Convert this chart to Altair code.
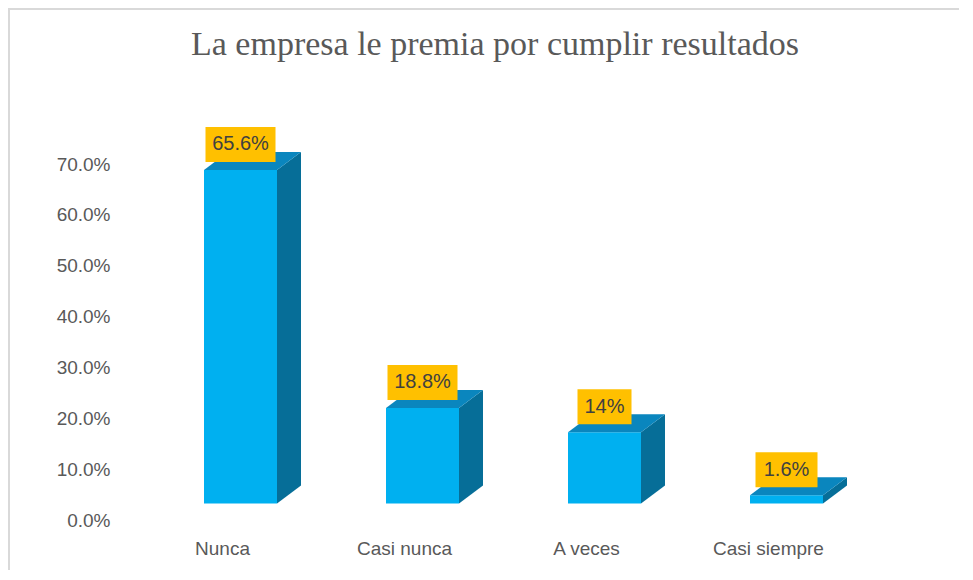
import altair as alt
import pandas as pd

# ---- data ----
categories = ["Nunca", "Casi nunca", "A veces", "Casi siempre"]
values = [0.656, 0.188, 0.14, 0.016]
value_labels = ["65.6%", "18.8%", "14%", "1.6%"]
y_ticks = [0.0, 0.1, 0.2, 0.3, 0.4, 0.5, 0.6, 0.7]
title_text = "La empresa le premia por cumplir resultados"

# ---- layout / style constants ----
W, H = 728, 356
PAD_L, PAD_T, PAD_R, PAD_B = 123, 156, 100, 50
Y_MAX = 0.7
PX_X = W / len(categories)      # pixels per x unit
PX_Y = H / Y_MAX                # pixels per y unit

FRONT_L = -18 / PX_X
FRONT_R = 55 / PX_X
DX = 24 / PX_X
DY = 18 / PX_Y
BASE = 16.5 / PX_Y
BOX_GAP = 8 / PX_Y
BOX_H = 35 / PX_Y

C_FRONT = "#00B0F0"
C_SIDE = "#066E98"
C_TOP = "#0A86BE"
C_BOX = "#FFC000"
C_TEXT = "#595959"
FONT = "Liberation Sans"

front_rows, side_rows, top_rows, box_rows = [], [], [], []
for i, (cat, v, lab) in enumerate(zip(categories, values, value_labels)):
    c = i + 0.5
    fl, fr = c + FRONT_L, c + FRONT_R
    front_rows.append(dict(cat=cat, x=fl, x2=fr, y=BASE, y2=BASE + v))
    side_rows.append(dict(cat=cat, x=fr, lo=BASE, hi=BASE + v))
    side_rows.append(dict(cat=cat, x=fr + DX, lo=BASE + DY, hi=BASE + v + DY))
    top_rows.append(dict(cat=cat, y=BASE + v, xl=fl, xr=fr))
    top_rows.append(dict(cat=cat, y=BASE + v + DY, xl=fl + DX, xr=fr + DX))
    fc = (fl + fr) / 2
    hw = (30 + 8 * len(lab)) / 2 / PX_X
    yb = BASE + v + BOX_GAP
    box_rows.append(dict(cat=cat, label=lab, x=fc - hw, x2=fc + hw, xc=fc,
                         y=yb, y2=yb + BOX_H, ym=yb + BOX_H / 2))

front_df = pd.DataFrame(front_rows)
side_df = pd.DataFrame(side_rows)
top_df = pd.DataFrame(top_rows)
box_df = pd.DataFrame(box_rows)

xs = alt.Scale(domain=[0, len(categories)], nice=False, zero=False)
ys = alt.Scale(domain=[0, Y_MAX], nice=False, zero=False)

cat_array = "[" + ",".join("'" + c + "'" for c in categories) + "]"
x_axis = alt.Axis(values=[i + 0.5 for i in range(len(categories))],
                  labelExpr=cat_array + "[floor(datum.value)]",
                  title=None, ticks=False, domain=False, grid=False,
                  labelPadding=19, labelFontSize=19, labelFont=FONT,
                  labelColor=C_TEXT, labelBaseline="top")
y_axis = alt.Axis(values=y_ticks, format=".1%", title=None, ticks=False,
                  domain=False, grid=False, labelPadding=21, labelFontSize=19,
                  labelFont=FONT, labelColor=C_TEXT)

front = alt.Chart(front_df).mark_rect(color=C_FRONT).encode(
    x=alt.X("x:Q", scale=xs, axis=x_axis), x2="x2:Q",
    y=alt.Y("y:Q", scale=ys, axis=y_axis), y2="y2:Q")

side = alt.Chart(side_df).mark_area(color=C_SIDE, orient="vertical").encode(
    x=alt.X("x:Q", scale=xs, axis=x_axis),
    y=alt.Y("lo:Q", scale=ys, axis=y_axis), y2="hi:Q",
    detail="cat:N")

top = alt.Chart(top_df).mark_area(color=C_TOP, orient="horizontal").encode(
    y=alt.Y("y:Q", scale=ys, axis=y_axis),
    x=alt.X("xl:Q", scale=xs, axis=x_axis), x2="xr:Q",
    detail="cat:N")

boxes = alt.Chart(box_df).mark_rect(color=C_BOX).encode(
    x=alt.X("x:Q", scale=xs, axis=x_axis), x2="x2:Q",
    y=alt.Y("y:Q", scale=ys, axis=y_axis), y2="y2:Q")

texts = alt.Chart(box_df).mark_text(font=FONT, fontSize=20, color="#404040",
                                    baseline="middle", align="center").encode(
    x=alt.X("xc:Q", scale=xs, axis=x_axis),
    y=alt.Y("ym:Q", scale=ys, axis=y_axis),
    text="label:N")

title = alt.Chart(pd.DataFrame({"t": [title_text]})).mark_text(
    font="Liberation Serif", fontSize=34, color=C_TEXT,
    baseline="alphabetic", align="center").encode(
    x=alt.value(W / 2), y=alt.value(-109), text="t:N")

border = alt.Chart(pd.DataFrame({"k": [0]})).mark_rule(color="#D9D9D9", strokeWidth=2).encode(
    x=alt.value(-PAD_L + 1), y=alt.value(-PAD_T), y2=alt.value(H + PAD_B))
border_top = alt.Chart(pd.DataFrame({"k": [0]})).mark_rule(color="#D9D9D9", strokeWidth=2).encode(
    x=alt.value(-PAD_L), x2=alt.value(W + PAD_R), y=alt.value(-PAD_T + 1))

chart = alt.layer(front, side, top, boxes, texts, title, border, border_top).properties(
    width=W, height=H,
    background="white",
    autosize=alt.AutoSizeParams(type="none"),
    padding={"left": PAD_L, "top": PAD_T, "right": PAD_R, "bottom": PAD_B},
).configure_view(strokeWidth=0)

chart.save("out.html", embed_options={"renderer": "svg", "actions": False})
